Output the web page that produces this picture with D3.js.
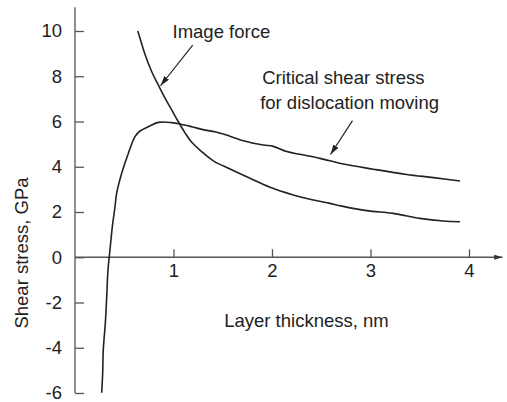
<!DOCTYPE html>
<html>
<head>
<meta charset="utf-8">
<script src="https://cdn.jsdelivr.net/npm/d3@7"></script>
<style>
  html, body { margin: 0; padding: 0; background: #fff; }
  svg text { font-family: "Liberation Sans", Arial, sans-serif; fill: #222; }
</style>
</head>
<body>
<svg id="chart" width="507" height="402"></svg>
<script>
// ---- data ----
const xTicks = [1, 2, 3, 4];
const yTicks = [-6, -4, -2, 0, 2, 4, 6, 8, 10];
const xLabel = "Layer thickness, nm";
const yLabel = "Shear stress, GPa";

const imageForceX = [0.637, 0.660, 0.711, 0.779, 0.846, 0.914, 0.982, 1.049, 1.117, 1.185, 1.286, 1.404, 1.574, 1.777, 1.980, 2.216, 2.386, 2.589, 2.690, 2.960, 3.230, 3.500, 3.740, 3.909];
const imageForceY = [10.0, 9.68, 8.96, 8.20, 7.61, 7.03, 6.51, 5.99, 5.50, 5.08, 4.67, 4.26, 3.90, 3.49, 3.09, 2.75, 2.56, 2.38, 2.28, 2.06, 1.94, 1.72, 1.60, 1.57];

const criticalX = [0.271, 0.281, 0.287, 0.308, 0.322, 0.335, 0.355, 0.379, 0.406, 0.423, 0.474, 0.541, 0.609, 0.660, 0.744, 0.846, 0.982, 1.066, 1.185, 1.320, 1.420, 1.540, 1.709, 1.912, 2.013, 2.149, 2.284, 2.487, 2.724, 3.030, 3.367, 3.640, 3.909];
const criticalY = [-5.99, -5.12, -4.10, -2.91, -1.74, -0.56, 0.32, 1.35, 2.23, 2.83, 3.71, 4.59, 5.33, 5.58, 5.77, 5.96, 5.95, 5.89, 5.77, 5.62, 5.55, 5.40, 5.15, 4.96, 4.90, 4.67, 4.55, 4.37, 4.12, 3.89, 3.66, 3.52, 3.37];

// annotations (data coordinates)
const annotations = [
  { lines: ["Image force"], x: 0.99, y: 9.69, from: [1.195, 9.38], to: [0.868, 7.58] },
  { lines: ["Critical shear stress", "for dislocation moving"], x: 1.90, y: 7.67, from: [2.817, 6.04], to: [2.594, 4.54] }
];

// ---- layout ----
const svg = d3.select("#chart");
const x = d3.scaleLinear().domain([0, 4]).range([75, 469]);
const y = d3.scaleLinear().domain([-6, 10]).range([393, 31]);
const fontSize = 18.5;
const axisColor = "#555";
const lineColor = "#222";
const fmt = d => String(d); // plain hyphen-minus like the original

const defs = svg.append("defs");
defs.append("marker").attr("id", "arrow")
  .attr("viewBox", "0 0 10 6").attr("refX", 10).attr("refY", 3)
  .attr("markerUnits", "userSpaceOnUse")
  .attr("markerWidth", 10).attr("markerHeight", 6).attr("orient", "auto")
  .append("path").attr("d", "M0,0 L10,3 L0,6 Z").attr("fill", "#222");
defs.append("marker").attr("id", "axisArrow")
  .attr("viewBox", "0 0 10 6").attr("refX", 10).attr("refY", 3)
  .attr("markerUnits", "userSpaceOnUse")
  .attr("markerWidth", 9).attr("markerHeight", 5).attr("orient", "auto")
  .append("path").attr("d", "M0,0 L10,3 L0,6 Z").attr("fill", "#333");

// axis lines
svg.append("line")
  .attr("x1", x(0)).attr("x2", x(0))
  .attr("y1", y(11.05)).attr("y2", y(-6))
  .attr("stroke", axisColor).attr("stroke-width", 1.3);
svg.append("line")
  .attr("x1", x(0)).attr("x2", x(4.34))
  .attr("y1", y(0)).attr("y2", y(0))
  .attr("stroke", axisColor).attr("stroke-width", 1.3)
  .attr("marker-end", "url(#axisArrow)");

// y axis ticks
const yAxis = d3.axisLeft(y).tickValues(yTicks).tickFormat(fmt).tickSizeInner(-9).tickSizeOuter(0).tickPadding(13);
const gy = svg.append("g").attr("transform", `translate(${x(0)},0)`).call(yAxis);
gy.select(".domain").remove();
gy.selectAll(".tick line").attr("stroke", axisColor).attr("stroke-width", 1.3);
gy.selectAll(".tick text").attr("font-size", fontSize).attr("font-family", "Liberation Sans, Arial, sans-serif").attr("fill", "#222");

// x axis ticks
const xAxis = d3.axisBottom(x).tickValues(xTicks).tickFormat(fmt).tickSizeInner(-8).tickSizeOuter(0).tickPadding(7);
const gx = svg.append("g").attr("transform", `translate(0,${y(0)})`).call(xAxis);
gx.select(".domain").remove();
gx.selectAll(".tick line").attr("stroke", axisColor).attr("stroke-width", 1.3);
gx.selectAll(".tick text").attr("font-size", fontSize).attr("font-family", "Liberation Sans, Arial, sans-serif").attr("fill", "#222");

// axis labels
svg.append("text")
  .attr("x", x(2.350)).attr("y", 327)
  .attr("text-anchor", "middle").attr("font-size", fontSize)
  .text(xLabel);
svg.append("text")
  .attr("transform", `translate(28,253) rotate(-90)`)
  .attr("text-anchor", "middle").attr("font-size", fontSize)
  .text(yLabel);

// curves
const line = d3.line().x(d => x(d[0])).y(d => y(d[1])).curve(d3.curveCatmullRom.alpha(0.5));
const imageData = imageForceX.map((v, i) => [v, imageForceY[i]]);
const critData = criticalX.map((v, i) => [v, criticalY[i]]);
[imageData, critData].forEach(data => {
  svg.append("path").datum(data)
    .attr("d", line)
    .attr("fill", "none").attr("stroke", lineColor).attr("stroke-width", 1.6)
    .attr("stroke-linejoin", "round");
});

// annotations
annotations.forEach(a => {
  const t = svg.append("text").attr("x", x(a.x)).attr("y", y(a.y)).attr("font-size", fontSize);
  a.lines.forEach((l, i) => {
    t.append("tspan").attr("x", x(a.x) - (i ? 2 : 0)).attr("dy", i ? 25 : 0).text(l);
  });
  svg.append("line")
    .attr("x1", x(a.from[0])).attr("y1", y(a.from[1]))
    .attr("x2", x(a.to[0])).attr("y2", y(a.to[1]))
    .attr("stroke", "#222").attr("stroke-width", 1.2)
    .attr("marker-end", "url(#arrow)");
});
</script>
</body>
</html>
